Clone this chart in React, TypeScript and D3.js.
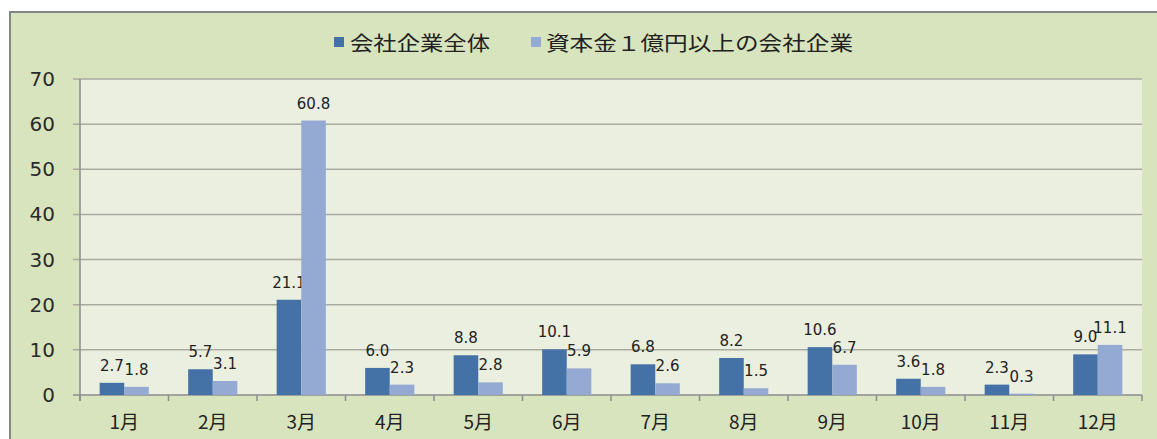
import React from "react";
import * as d3 from "d3";

const months = ["1月", "2月", "3月", "4月", "5月", "6月", "7月", "8月", "9月", "10月", "11月", "12月"];
const allCompanies = [2.7, 5.7, 21.1, 6.0, 8.8, 10.1, 6.8, 8.2, 10.6, 3.6, 2.3, 9.0];
const largeCompanies = [1.8, 3.1, 60.8, 2.3, 2.8, 5.9, 2.6, 1.5, 6.7, 1.8, 0.3, 11.1];
const seriesNames = ["会社企業全体", "資本金１億円以上の会社企業"];
const yTicks = [0, 10, 20, 30, 40, 50, 60, 70];

const colors = ["#4471A6", "#95AAD2"];
const W = 1157;
const H = 439;
const plot = { left: 80, right: 1142, top: 79, bottom: 395 };

export default function App() {
  const x = d3.scaleBand<string>().domain(months).range([plot.left, plot.right]).paddingInner(0).paddingOuter(0);
  const inner = d3
    .scaleBand<string>()
    .domain(["a", "b"])
    .range([0, x.bandwidth()])
    .paddingInner(0)
    .paddingOuter(0.8);
  const y = d3.scaleLinear().domain([0, 70]).range([plot.bottom, plot.top]);
  const series = [allCompanies, largeCompanies];
  const keys = ["a", "b"];
  const boundaries = months.map((m) => x(m)!).concat([plot.right]);

  return (
    <svg width={W} height={H} style={{ position: "absolute", left: 0, top: 0, background: "#ffffff" }}>
      <rect x={10} y={12} width={W + 20} height={H + 20} fill="#D8E4BD" stroke="#858585" strokeWidth={2} />
      <rect x={plot.left} y={plot.top} width={plot.right - plot.left} height={plot.bottom - plot.top} fill="#EBEFDF" />
      {yTicks.map((t) => (
        <g key={t}>
          <line x1={plot.left - 7} x2={plot.right} y1={y(t)} y2={y(t)} stroke={t === 0 ? "#8C8C8C" : "#A9ABA2"} strokeWidth={1.5} />
          <text
            x={55}
            y={y(t)}
            textAnchor="end"
            dominantBaseline="central"
            fontFamily="DejaVu Sans, sans-serif"
            fontSize={20}
            fill="#2a2a2a"
          >
            {t}
          </text>
        </g>
      ))}
      <line x1={plot.left} x2={plot.left} y1={plot.top} y2={plot.bottom + 6} stroke="#8C8C8C" strokeWidth={1.5} />
      {boundaries.map((b, i) => (
        <line key={i} x1={b} x2={b} y1={plot.bottom} y2={plot.bottom + 6} stroke="#8C8C8C" strokeWidth={1.5} />
      ))}
      {months.map((m, i) => (
        <g key={m}>
          {series.map((s, si) => {
            const bx = x(m)! + inner(keys[si])!;
            const v = s[i];
            return (
              <g key={si}>
                <rect x={bx} y={y(v)} width={inner.bandwidth()} height={y(0) - y(v)} fill={colors[si]} />
                <text
                  x={bx + inner.bandwidth() / 2}
                  y={y(v) - 12}
                  textAnchor="middle"
                  fontFamily="DejaVu Sans, sans-serif"
                  fontSize={15}
                  fill="#222"
                >
                  {v.toFixed(1)}
                </text>
              </g>
            );
          })}
          <text
            x={x(m)! + x.bandwidth() / 2}
            y={420}
            textAnchor="middle"
            dominantBaseline="central"
            fontFamily="Noto Sans CJK JP, sans-serif"
            fontSize={19}
            fill="#222"
          >
            {m}
          </text>
        </g>
      ))}
      <g>
        <rect x={334} y={37} width={10} height={10} fill={colors[0]} />
        <text
          x={350}
          y={42}
          dominantBaseline="central"
          fontFamily="Noto Sans CJK JP, sans-serif"
          fontSize={20}
          fill="#222"
          textLength={140}
          lengthAdjust="spacingAndGlyphs"
        >
          {seriesNames[0]}
        </text>
        <rect x={531} y={37} width={10} height={10} fill={colors[1]} />
        <text
          x={546}
          y={42}
          dominantBaseline="central"
          fontFamily="Noto Sans CJK JP, sans-serif"
          fontSize={20}
          fill="#222"
          textLength={307}
          lengthAdjust="spacingAndGlyphs"
        >
          {seriesNames[1]}
        </text>
      </g>
    </svg>
  );
}
